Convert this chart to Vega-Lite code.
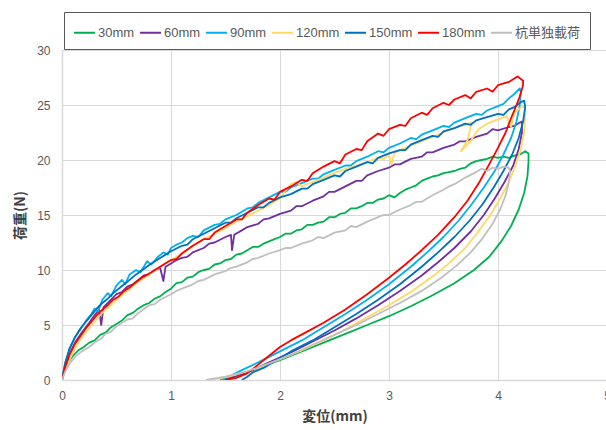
{
  "$schema": "https://vega.github.io/schema/vega-lite/v6.json",
  "width": 545,
  "height": 330,
  "autosize": {"type": "none"},
  "padding": {"left": 62, "top": 50, "right": 0, "bottom": 50},
  "background": "white",
  "config": {
    "view": {"stroke": null},
    "font": "Noto Sans CJK JP",
    "axis": {
      "gridColor": "#d9d9d9",
      "gridWidth": 1,
      "domainColor": "#d9d9d9",
      "domainWidth": 1.5,
      "ticks": false,
      "labelFlush": false,
      "labelFont": "Liberation Sans, Noto Sans CJK JP",
      "labelFontSize": 12,
      "labelColor": "#595959",
      "titleFont": "Noto Sans CJK JP",
      "titleFontSize": 14,
      "titleFontWeight": "bold",
      "titleColor": "#404040"
    },
    "legend": {
      "labelFont": "Liberation Sans, Noto Sans CJK JP",
      "labelFontSize": 13,
      "labelColor": "#595959"
    }
  },
  "data": {
    "values": [
      {"s":"30mm","x":0,"y":0},{"s":"30mm","x":0.02,"y":0.8},{"s":"30mm","x":0.05,"y":1.5},{"s":"30mm","x":0.1,"y":2.2},{"s":"30mm","x":0.15,"y":2.7},{"s":"30mm","x":0.2,"y":3.0},{"s":"30mm","x":0.25,"y":3.4},{"s":"30mm","x":0.3,"y":3.6},{"s":"30mm","x":0.35,"y":4.1},{"s":"30mm","x":0.4,"y":4.3},{"s":"30mm","x":0.45,"y":4.8},{"s":"30mm","x":0.5,"y":5.1},{"s":"30mm","x":0.55,"y":5.4},{"s":"30mm","x":0.6,"y":5.9},{"s":"30mm","x":0.65,"y":6.1},{"s":"30mm","x":0.7,"y":6.5},{"s":"30mm","x":0.75,"y":6.8},{"s":"30mm","x":0.8,"y":7.0},{"s":"30mm","x":0.85,"y":7.4},{"s":"30mm","x":0.9,"y":7.6},{"s":"30mm","x":0.95,"y":8.0},{"s":"30mm","x":1.0,"y":8.3},{"s":"30mm","x":1.05,"y":8.8},{"s":"30mm","x":1.1,"y":8.9},{"s":"30mm","x":1.15,"y":9.3},{"s":"30mm","x":1.2,"y":9.4},{"s":"30mm","x":1.25,"y":9.8},{"s":"30mm","x":1.3,"y":10.0},{"s":"30mm","x":1.35,"y":10.1},{"s":"30mm","x":1.4,"y":10.5},{"s":"30mm","x":1.45,"y":10.6},{"s":"30mm","x":1.5,"y":10.9},{"s":"30mm","x":1.55,"y":11.0},{"s":"30mm","x":1.6,"y":11.4},{"s":"30mm","x":1.65,"y":11.5},{"s":"30mm","x":1.7,"y":11.8},{"s":"30mm","x":1.75,"y":12.1},{"s":"30mm","x":1.8,"y":12.1},{"s":"30mm","x":1.85,"y":12.4},{"s":"30mm","x":1.9,"y":12.6},{"s":"30mm","x":1.95,"y":12.8},{"s":"30mm","x":2.0,"y":13.0},{"s":"30mm","x":2.05,"y":13.3},{"s":"30mm","x":2.1,"y":13.3},{"s":"30mm","x":2.15,"y":13.6},{"s":"30mm","x":2.2,"y":13.7},{"s":"30mm","x":2.25,"y":14.1},{"s":"30mm","x":2.3,"y":14.1},{"s":"30mm","x":2.35,"y":14.3},{"s":"30mm","x":2.4,"y":14.4},{"s":"30mm","x":2.45,"y":14.8},{"s":"30mm","x":2.5,"y":14.8},{"s":"30mm","x":2.55,"y":15.1},{"s":"30mm","x":2.6,"y":15.2},{"s":"30mm","x":2.65,"y":15.6},{"s":"30mm","x":2.7,"y":15.6},{"s":"30mm","x":2.75,"y":15.8},{"s":"30mm","x":2.8,"y":16.1},{"s":"30mm","x":2.85,"y":16.1},{"s":"30mm","x":2.9,"y":16.4},{"s":"30mm","x":2.95,"y":16.5},{"s":"30mm","x":3.0,"y":16.8},{"s":"30mm","x":3.05,"y":16.6},{"s":"30mm","x":3.1,"y":17.0},{"s":"30mm","x":3.15,"y":17.3},{"s":"30mm","x":3.2,"y":17.5},{"s":"30mm","x":3.25,"y":17.7},{"s":"30mm","x":3.3,"y":18.1},{"s":"30mm","x":3.35,"y":18.3},{"s":"30mm","x":3.4,"y":18.5},{"s":"30mm","x":3.45,"y":18.6},{"s":"30mm","x":3.5,"y":18.8},{"s":"30mm","x":3.55,"y":18.9},{"s":"30mm","x":3.6,"y":19.0},{"s":"30mm","x":3.65,"y":19.2},{"s":"30mm","x":3.7,"y":19.3},{"s":"30mm","x":3.75,"y":19.7},{"s":"30mm","x":3.8,"y":19.9},{"s":"30mm","x":3.85,"y":20.0},{"s":"30mm","x":3.9,"y":20.1},{"s":"30mm","x":3.95,"y":20.3},{"s":"30mm","x":4.0,"y":20.2},{"s":"30mm","x":4.05,"y":20.3},{"s":"30mm","x":4.1,"y":20.2},{"s":"30mm","x":4.15,"y":20.4},{"s":"30mm","x":4.2,"y":20.5},{"s":"30mm","x":4.25,"y":20.8},{"s":"30mm","x":4.28,"y":20.6},
      {"s":"30mm","x":4.28,"y":19.8},{"s":"30mm","x":4.27,"y":18.5},{"s":"30mm","x":4.24,"y":17.0},{"s":"30mm","x":4.19,"y":15.5},{"s":"30mm","x":4.12,"y":14.0},{"s":"30mm","x":4.03,"y":12.6},{"s":"30mm","x":3.92,"y":11.2},{"s":"30mm","x":3.78,"y":10.0},{"s":"30mm","x":3.6,"y":8.8},{"s":"30mm","x":3.4,"y":7.7},{"s":"30mm","x":3.2,"y":6.7},{"s":"30mm","x":3.0,"y":5.8},{"s":"30mm","x":2.8,"y":5.0},{"s":"30mm","x":2.6,"y":4.2},{"s":"30mm","x":2.4,"y":3.4},{"s":"30mm","x":2.2,"y":2.6},{"s":"30mm","x":2.0,"y":1.8},{"s":"30mm","x":1.8,"y":1.1},{"s":"30mm","x":1.65,"y":0.5},{"s":"30mm","x":1.55,"y":0.2},{"s":"30mm","x":1.45,"y":0},

      {"s":"60mm","x":0,"y":0},{"s":"60mm","x":0.03,"y":1.3},{"s":"60mm","x":0.07,"y":2.4},{"s":"60mm","x":0.12,"y":3.4},{"s":"60mm","x":0.18,"y":4.3},{"s":"60mm","x":0.25,"y":5.2},{"s":"60mm","x":0.3,"y":5.9},{"s":"60mm","x":0.34,"y":6.4},{"s":"60mm","x":0.36,"y":5.0},{"s":"60mm","x":0.38,"y":6.6},{"s":"60mm","x":0.45,"y":7.3},{"s":"60mm","x":0.5,"y":7.8},{"s":"60mm","x":0.55,"y":8.0},{"s":"60mm","x":0.6,"y":8.5},{"s":"60mm","x":0.65,"y":8.7},{"s":"60mm","x":0.7,"y":9.1},{"s":"60mm","x":0.75,"y":9.5},{"s":"60mm","x":0.8,"y":9.6},{"s":"60mm","x":0.85,"y":10.0},{"s":"60mm","x":0.9,"y":10.2},{"s":"60mm","x":0.93,"y":9.0},{"s":"60mm","x":0.95,"y":10.3},{"s":"60mm","x":1.0,"y":10.6},{"s":"60mm","x":1.05,"y":10.9},{"s":"60mm","x":1.1,"y":11.1},{"s":"60mm","x":1.15,"y":11.2},{"s":"60mm","x":1.2,"y":11.6},{"s":"60mm","x":1.3,"y":12.0},{"s":"60mm","x":1.35,"y":12.4},{"s":"60mm","x":1.4,"y":12.5},{"s":"60mm","x":1.5,"y":13.0},{"s":"60mm","x":1.55,"y":13.2},{"s":"60mm","x":1.56,"y":11.8},{"s":"60mm","x":1.58,"y":13.2},{"s":"60mm","x":1.65,"y":13.6},{"s":"60mm","x":1.7,"y":13.9},{"s":"60mm","x":1.8,"y":14.2},{"s":"60mm","x":1.85,"y":14.6},{"s":"60mm","x":1.9,"y":14.7},{"s":"60mm","x":2.0,"y":15.1},{"s":"60mm","x":2.1,"y":15.4},{"s":"60mm","x":2.15,"y":15.8},{"s":"60mm","x":2.2,"y":15.8},{"s":"60mm","x":2.3,"y":16.3},{"s":"60mm","x":2.4,"y":16.7},{"s":"60mm","x":2.45,"y":17.1},{"s":"60mm","x":2.5,"y":17.1},{"s":"60mm","x":2.6,"y":17.6},{"s":"60mm","x":2.7,"y":18.1},{"s":"60mm","x":2.75,"y":18.1},{"s":"60mm","x":2.8,"y":18.6},{"s":"60mm","x":2.9,"y":19.0},{"s":"60mm","x":3.0,"y":19.3},{"s":"60mm","x":3.05,"y":19.6},{"s":"60mm","x":3.1,"y":19.6},{"s":"60mm","x":3.2,"y":20.1},{"s":"60mm","x":3.3,"y":20.3},{"s":"60mm","x":3.35,"y":20.7},{"s":"60mm","x":3.4,"y":20.7},{"s":"60mm","x":3.5,"y":21.1},{"s":"60mm","x":3.6,"y":21.4},{"s":"60mm","x":3.65,"y":21.7},{"s":"60mm","x":3.7,"y":21.7},{"s":"60mm","x":3.8,"y":22.1},{"s":"60mm","x":3.9,"y":22.4},{"s":"60mm","x":3.95,"y":22.8},{"s":"60mm","x":4.0,"y":22.7},{"s":"60mm","x":4.1,"y":23.0},{"s":"60mm","x":4.15,"y":23.1},{"s":"60mm","x":4.2,"y":23.4},
      {"s":"60mm","x":4.22,"y":23.5},{"s":"60mm","x":4.22,"y":22.5},{"s":"60mm","x":4.19,"y":21.0},{"s":"60mm","x":4.14,"y":19.5},{"s":"60mm","x":4.06,"y":18.0},{"s":"60mm","x":3.97,"y":16.5},{"s":"60mm","x":3.87,"y":15.0},{"s":"60mm","x":3.75,"y":13.5},{"s":"60mm","x":3.6,"y":12.0},{"s":"60mm","x":3.45,"y":10.7},{"s":"60mm","x":3.3,"y":9.5},{"s":"60mm","x":3.1,"y":8.1},{"s":"60mm","x":2.9,"y":6.8},{"s":"60mm","x":2.7,"y":5.6},{"s":"60mm","x":2.5,"y":4.5},{"s":"60mm","x":2.3,"y":3.5},{"s":"60mm","x":2.1,"y":2.5},{"s":"60mm","x":1.9,"y":1.6},{"s":"60mm","x":1.75,"y":0.9},{"s":"60mm","x":1.6,"y":0.4},{"s":"60mm","x":1.5,"y":0},

      {"s":"90mm","x":0,"y":0},{"s":"90mm","x":0.03,"y":1.5},{"s":"90mm","x":0.07,"y":2.8},{"s":"90mm","x":0.12,"y":3.9},{"s":"90mm","x":0.17,"y":4.6},{"s":"90mm","x":0.22,"y":5.4},{"s":"90mm","x":0.27,"y":6.0},{"s":"90mm","x":0.3,"y":6.5},{"s":"90mm","x":0.33,"y":6.2},{"s":"90mm","x":0.37,"y":7.3},{"s":"90mm","x":0.42,"y":7.9},{"s":"90mm","x":0.45,"y":7.6},{"s":"90mm","x":0.5,"y":8.6},{"s":"90mm","x":0.55,"y":9.1},{"s":"90mm","x":0.58,"y":8.7},{"s":"90mm","x":0.62,"y":9.6},{"s":"90mm","x":0.68,"y":10.0},{"s":"90mm","x":0.72,"y":9.8},{"s":"90mm","x":0.78,"y":10.8},{"s":"90mm","x":0.82,"y":10.5},{"s":"90mm","x":0.88,"y":11.2},{"s":"90mm","x":0.93,"y":11.6},{"s":"90mm","x":0.97,"y":11.4},{"s":"90mm","x":1.0,"y":12.0},{"s":"90mm","x":1.05,"y":12.3},{"s":"90mm","x":1.1,"y":12.5},{"s":"90mm","x":1.15,"y":12.9},{"s":"90mm","x":1.2,"y":13.1},{"s":"90mm","x":1.25,"y":13.0},{"s":"90mm","x":1.3,"y":13.6},{"s":"90mm","x":1.4,"y":14.1},{"s":"90mm","x":1.45,"y":14.2},{"s":"90mm","x":1.5,"y":14.6},{"s":"90mm","x":1.6,"y":15.0},{"s":"90mm","x":1.7,"y":15.6},{"s":"90mm","x":1.75,"y":15.7},{"s":"90mm","x":1.8,"y":16.1},{"s":"90mm","x":1.9,"y":16.6},{"s":"90mm","x":2.0,"y":17.1},{"s":"90mm","x":2.05,"y":17.1},{"s":"90mm","x":2.1,"y":17.5},{"s":"90mm","x":2.2,"y":17.9},{"s":"90mm","x":2.3,"y":18.3},{"s":"90mm","x":2.35,"y":18.3},{"s":"90mm","x":2.4,"y":18.7},{"s":"90mm","x":2.5,"y":19.1},{"s":"90mm","x":2.6,"y":19.5},{"s":"90mm","x":2.65,"y":19.5},{"s":"90mm","x":2.7,"y":19.9},{"s":"90mm","x":2.8,"y":20.3},{"s":"90mm","x":2.9,"y":20.8},{"s":"90mm","x":2.95,"y":20.7},{"s":"90mm","x":3.0,"y":21.1},{"s":"90mm","x":3.1,"y":21.5},{"s":"90mm","x":3.2,"y":22.0},{"s":"90mm","x":3.25,"y":21.9},{"s":"90mm","x":3.3,"y":22.3},{"s":"90mm","x":3.4,"y":22.7},{"s":"90mm","x":3.5,"y":23.1},{"s":"90mm","x":3.55,"y":23.0},{"s":"90mm","x":3.6,"y":23.4},{"s":"90mm","x":3.7,"y":23.8},{"s":"90mm","x":3.8,"y":24.2},{"s":"90mm","x":3.85,"y":24.1},{"s":"90mm","x":3.9,"y":24.5},{"s":"90mm","x":4.0,"y":24.9},{"s":"90mm","x":4.05,"y":25.1},{"s":"90mm","x":4.1,"y":25.6},{"s":"90mm","x":4.15,"y":26.0},{"s":"90mm","x":4.2,"y":26.5},
      {"s":"90mm","x":4.21,"y":26.2},{"s":"90mm","x":4.2,"y":25.0},{"s":"90mm","x":4.17,"y":23.5},{"s":"90mm","x":4.12,"y":22.0},{"s":"90mm","x":4.05,"y":20.5},{"s":"90mm","x":3.97,"y":19.0},{"s":"90mm","x":3.87,"y":17.5},{"s":"90mm","x":3.76,"y":16.0},{"s":"90mm","x":3.64,"y":14.5},{"s":"90mm","x":3.5,"y":13.0},{"s":"90mm","x":3.35,"y":11.6},{"s":"90mm","x":3.2,"y":10.3},{"s":"90mm","x":3.0,"y":8.7},{"s":"90mm","x":2.8,"y":7.3},{"s":"90mm","x":2.6,"y":6.0},{"s":"90mm","x":2.4,"y":4.8},{"s":"90mm","x":2.2,"y":3.6},{"s":"90mm","x":2.0,"y":2.6},{"s":"90mm","x":1.8,"y":1.6},{"s":"90mm","x":1.65,"y":0.9},{"s":"90mm","x":1.55,"y":0.4},{"s":"90mm","x":1.45,"y":0},

      {"s":"120mm","x":0,"y":0},{"s":"120mm","x":0.02,"y":0.6},{"s":"120mm","x":0.05,"y":1.4},{"s":"120mm","x":0.1,"y":2.5},{"s":"120mm","x":0.15,"y":3.4},{"s":"120mm","x":0.2,"y":4.1},{"s":"120mm","x":0.25,"y":4.7},{"s":"120mm","x":0.3,"y":5.3},{"s":"120mm","x":0.35,"y":5.9},{"s":"120mm","x":0.4,"y":6.4},{"s":"120mm","x":0.45,"y":6.8},{"s":"120mm","x":0.5,"y":7.3},{"s":"120mm","x":0.6,"y":8.1},{"s":"120mm","x":0.7,"y":8.9},{"s":"120mm","x":0.8,"y":9.6},{"s":"120mm","x":0.9,"y":10.3},{"s":"120mm","x":1.0,"y":10.9},{"s":"120mm","x":1.1,"y":11.5},{"s":"120mm","x":1.2,"y":12.2},{"s":"120mm","x":1.3,"y":12.8},{"s":"120mm","x":1.4,"y":13.3},{"s":"120mm","x":1.5,"y":13.8},{"s":"120mm","x":1.6,"y":14.4},{"s":"120mm","x":1.7,"y":14.9},{"s":"120mm","x":1.8,"y":15.4},{"s":"120mm","x":1.9,"y":15.9},{"s":"120mm","x":2.0,"y":16.5},{"s":"120mm","x":2.05,"y":17.2},{"s":"120mm","x":2.1,"y":17.8},{"s":"120mm","x":2.15,"y":18.0},{"s":"120mm","x":2.2,"y":17.6},{"s":"120mm","x":2.3,"y":18.0},{"s":"120mm","x":2.4,"y":18.4},{"s":"120mm","x":2.5,"y":18.8},{"s":"120mm","x":2.6,"y":19.2},{"s":"120mm","x":2.7,"y":19.5},{"s":"120mm","x":2.8,"y":19.8},{"s":"120mm","x":2.9,"y":20.2},{"s":"120mm","x":2.95,"y":20.1},{"s":"120mm","x":3.0,"y":20.5},{"s":"120mm","x":3.02,"y":19.6},{"s":"120mm","x":3.05,"y":20.6},{"s":"120mm","x":3.1,"y":20.9},{"s":"120mm","x":3.2,"y":21.3},{"s":"120mm","x":3.3,"y":21.7},{"s":"120mm","x":3.4,"y":22.1},{"s":"120mm","x":3.5,"y":22.5},{"s":"120mm","x":3.6,"y":22.9},{"s":"120mm","x":3.7,"y":23.2},{"s":"120mm","x":3.76,"y":23.4},{"s":"120mm","x":3.72,"y":21.8},{"s":"120mm","x":3.66,"y":20.8},{"s":"120mm","x":3.74,"y":21.6},{"s":"120mm","x":3.82,"y":22.8},{"s":"120mm","x":3.9,"y":23.3},{"s":"120mm","x":4.0,"y":23.7},{"s":"120mm","x":4.08,"y":24.0},{"s":"120mm","x":4.12,"y":23.0},{"s":"120mm","x":4.15,"y":24.3},{"s":"120mm","x":4.2,"y":24.7},{"s":"120mm","x":4.24,"y":24.9},
      {"s":"120mm","x":4.25,"y":24.0},{"s":"120mm","x":4.24,"y":22.5},{"s":"120mm","x":4.21,"y":21.0},{"s":"120mm","x":4.16,"y":19.5},{"s":"120mm","x":4.1,"y":18.0},{"s":"120mm","x":4.02,"y":16.5},{"s":"120mm","x":3.93,"y":15.0},{"s":"120mm","x":3.82,"y":13.5},{"s":"120mm","x":3.7,"y":12.0},{"s":"120mm","x":3.55,"y":10.6},{"s":"120mm","x":3.4,"y":9.4},{"s":"120mm","x":3.2,"y":8.0},{"s":"120mm","x":3.0,"y":6.8},{"s":"120mm","x":2.8,"y":5.7},{"s":"120mm","x":2.6,"y":4.6},{"s":"120mm","x":2.4,"y":3.6},{"s":"120mm","x":2.2,"y":2.7},{"s":"120mm","x":2.0,"y":1.9},{"s":"120mm","x":1.8,"y":1.1},{"s":"120mm","x":1.6,"y":0.5},{"s":"120mm","x":1.47,"y":0.2},{"s":"120mm","x":1.35,"y":0},

      {"s":"150mm","x":0,"y":0},{"s":"150mm","x":0.03,"y":1.6},{"s":"150mm","x":0.07,"y":2.9},{"s":"150mm","x":0.12,"y":3.9},{"s":"150mm","x":0.17,"y":4.7},{"s":"150mm","x":0.22,"y":5.3},{"s":"150mm","x":0.27,"y":5.9},{"s":"150mm","x":0.32,"y":6.5},{"s":"150mm","x":0.37,"y":7.0},{"s":"150mm","x":0.42,"y":7.4},{"s":"150mm","x":0.47,"y":7.9},{"s":"150mm","x":0.52,"y":8.3},{"s":"150mm","x":0.57,"y":8.7},{"s":"150mm","x":0.62,"y":9.1},{"s":"150mm","x":0.68,"y":9.6},{"s":"150mm","x":0.75,"y":10.1},{"s":"150mm","x":0.82,"y":10.6},{"s":"150mm","x":0.9,"y":11.1},{"s":"150mm","x":1.0,"y":11.7},{"s":"150mm","x":1.1,"y":12.2},{"s":"150mm","x":1.15,"y":12.3},{"s":"150mm","x":1.2,"y":12.8},{"s":"150mm","x":1.3,"y":13.3},{"s":"150mm","x":1.4,"y":13.8},{"s":"150mm","x":1.5,"y":14.3},{"s":"150mm","x":1.55,"y":14.3},{"s":"150mm","x":1.6,"y":14.7},{"s":"150mm","x":1.7,"y":15.2},{"s":"150mm","x":1.8,"y":15.7},{"s":"150mm","x":1.85,"y":15.7},{"s":"150mm","x":1.9,"y":16.1},{"s":"150mm","x":2.0,"y":16.6},{"s":"150mm","x":2.1,"y":16.9},{"s":"150mm","x":2.2,"y":17.4},{"s":"150mm","x":2.25,"y":17.4},{"s":"150mm","x":2.3,"y":17.8},{"s":"150mm","x":2.4,"y":18.2},{"s":"150mm","x":2.5,"y":18.6},{"s":"150mm","x":2.55,"y":18.5},{"s":"150mm","x":2.6,"y":19.0},{"s":"150mm","x":2.7,"y":19.4},{"s":"150mm","x":2.8,"y":19.8},{"s":"150mm","x":2.85,"y":19.7},{"s":"150mm","x":2.9,"y":20.2},{"s":"150mm","x":3.0,"y":20.6},{"s":"150mm","x":3.1,"y":20.9},{"s":"150mm","x":3.15,"y":20.9},{"s":"150mm","x":3.2,"y":21.4},{"s":"150mm","x":3.3,"y":21.8},{"s":"150mm","x":3.4,"y":22.2},{"s":"150mm","x":3.45,"y":22.1},{"s":"150mm","x":3.5,"y":22.6},{"s":"150mm","x":3.6,"y":22.9},{"s":"150mm","x":3.7,"y":23.3},{"s":"150mm","x":3.75,"y":23.2},{"s":"150mm","x":3.8,"y":23.6},{"s":"150mm","x":3.9,"y":23.9},{"s":"150mm","x":4.0,"y":24.2},{"s":"150mm","x":4.05,"y":24.1},{"s":"150mm","x":4.1,"y":24.6},{"s":"150mm","x":4.15,"y":24.8},{"s":"150mm","x":4.2,"y":25.2},{"s":"150mm","x":4.24,"y":25.4},
      {"s":"150mm","x":4.25,"y":24.8},{"s":"150mm","x":4.23,"y":23.5},{"s":"150mm","x":4.19,"y":22.0},{"s":"150mm","x":4.13,"y":20.5},{"s":"150mm","x":4.05,"y":19.0},{"s":"150mm","x":3.96,"y":17.5},{"s":"150mm","x":3.86,"y":16.0},{"s":"150mm","x":3.74,"y":14.5},{"s":"150mm","x":3.6,"y":13.0},{"s":"150mm","x":3.45,"y":11.6},{"s":"150mm","x":3.3,"y":10.3},{"s":"150mm","x":3.1,"y":8.7},{"s":"150mm","x":2.9,"y":7.3},{"s":"150mm","x":2.7,"y":6.0},{"s":"150mm","x":2.5,"y":4.8},{"s":"150mm","x":2.3,"y":3.6},{"s":"150mm","x":2.1,"y":2.6},{"s":"150mm","x":1.95,"y":1.7},{"s":"150mm","x":1.85,"y":1.1},{"s":"150mm","x":1.75,"y":0.7},{"s":"150mm","x":1.7,"y":0.3},{"s":"150mm","x":1.65,"y":0},

      {"s":"180mm","x":0,"y":0},{"s":"180mm","x":0.03,"y":1.2},{"s":"180mm","x":0.07,"y":2.3},{"s":"180mm","x":0.12,"y":3.3},{"s":"180mm","x":0.17,"y":4.0},{"s":"180mm","x":0.22,"y":4.7},{"s":"180mm","x":0.27,"y":5.3},{"s":"180mm","x":0.32,"y":5.9},{"s":"180mm","x":0.37,"y":6.4},{"s":"180mm","x":0.42,"y":6.8},{"s":"180mm","x":0.47,"y":7.3},{"s":"180mm","x":0.52,"y":7.6},{"s":"180mm","x":0.57,"y":8.1},{"s":"180mm","x":0.62,"y":8.4},{"s":"180mm","x":0.68,"y":8.9},{"s":"180mm","x":0.75,"y":9.4},{"s":"180mm","x":0.82,"y":9.8},{"s":"180mm","x":0.9,"y":10.3},{"s":"180mm","x":1.0,"y":10.9},{"s":"180mm","x":1.05,"y":11.0},{"s":"180mm","x":1.1,"y":11.5},{"s":"180mm","x":1.2,"y":12.2},{"s":"180mm","x":1.3,"y":12.8},{"s":"180mm","x":1.35,"y":12.8},{"s":"180mm","x":1.4,"y":13.4},{"s":"180mm","x":1.5,"y":14.0},{"s":"180mm","x":1.6,"y":14.6},{"s":"180mm","x":1.65,"y":14.6},{"s":"180mm","x":1.7,"y":15.2},{"s":"180mm","x":1.8,"y":15.9},{"s":"180mm","x":1.9,"y":16.5},{"s":"180mm","x":1.95,"y":16.4},{"s":"180mm","x":2.0,"y":17.1},{"s":"180mm","x":2.1,"y":17.6},{"s":"180mm","x":2.2,"y":18.2},{"s":"180mm","x":2.25,"y":18.1},{"s":"180mm","x":2.3,"y":18.8},{"s":"180mm","x":2.4,"y":19.4},{"s":"180mm","x":2.5,"y":19.9},{"s":"180mm","x":2.55,"y":19.7},{"s":"180mm","x":2.6,"y":20.5},{"s":"180mm","x":2.7,"y":21.0},{"s":"180mm","x":2.75,"y":20.9},{"s":"180mm","x":2.8,"y":21.7},{"s":"180mm","x":2.9,"y":22.4},{"s":"180mm","x":2.95,"y":22.2},{"s":"180mm","x":3.0,"y":22.8},{"s":"180mm","x":3.1,"y":23.2},{"s":"180mm","x":3.15,"y":23.1},{"s":"180mm","x":3.2,"y":23.8},{"s":"180mm","x":3.3,"y":24.3},{"s":"180mm","x":3.35,"y":24.1},{"s":"180mm","x":3.4,"y":24.7},{"s":"180mm","x":3.5,"y":25.2},{"s":"180mm","x":3.55,"y":25.0},{"s":"180mm","x":3.6,"y":25.5},{"s":"180mm","x":3.7,"y":25.9},{"s":"180mm","x":3.75,"y":25.6},{"s":"180mm","x":3.8,"y":26.2},{"s":"180mm","x":3.9,"y":26.5},{"s":"180mm","x":3.95,"y":26.2},{"s":"180mm","x":4.0,"y":26.8},{"s":"180mm","x":4.1,"y":27.1},{"s":"180mm","x":4.15,"y":27.4},{"s":"180mm","x":4.18,"y":27.6},
      {"s":"180mm","x":4.23,"y":27.2},{"s":"180mm","x":4.23,"y":26.8},{"s":"180mm","x":4.2,"y":25.8},{"s":"180mm","x":4.17,"y":25.0},{"s":"180mm","x":4.12,"y":23.8},{"s":"180mm","x":4.07,"y":22.5},{"s":"180mm","x":4.0,"y":21.1},{"s":"180mm","x":3.93,"y":19.8},{"s":"180mm","x":3.83,"y":18.0},{"s":"180mm","x":3.72,"y":16.3},{"s":"180mm","x":3.6,"y":14.8},{"s":"180mm","x":3.45,"y":13.2},{"s":"180mm","x":3.3,"y":11.8},{"s":"180mm","x":3.15,"y":10.5},{"s":"180mm","x":3.0,"y":9.3},{"s":"180mm","x":2.8,"y":7.8},{"s":"180mm","x":2.6,"y":6.4},{"s":"180mm","x":2.4,"y":5.2},{"s":"180mm","x":2.25,"y":4.4},{"s":"180mm","x":2.1,"y":3.6},{"s":"180mm","x":2.0,"y":3.0},{"s":"180mm","x":1.9,"y":2.2},{"s":"180mm","x":1.8,"y":1.4},{"s":"180mm","x":1.7,"y":0.6},{"s":"180mm","x":1.6,"y":0.2},{"s":"180mm","x":1.5,"y":0},

      {"s":"杭単独載荷","x":0,"y":0},{"s":"杭単独載荷","x":0.03,"y":0.8},{"s":"杭単独載荷","x":0.07,"y":1.5},{"s":"杭単独載荷","x":0.12,"y":2.1},{"s":"杭単独載荷","x":0.18,"y":2.6},{"s":"杭単独載荷","x":0.25,"y":3.0},{"s":"杭単独載荷","x":0.3,"y":3.4},{"s":"杭単独載荷","x":0.35,"y":3.7},{"s":"杭単独載荷","x":0.4,"y":4.2},{"s":"杭単独載荷","x":0.45,"y":4.4},{"s":"杭単独載荷","x":0.5,"y":4.9},{"s":"杭単独載荷","x":0.6,"y":5.5},{"s":"杭単独載荷","x":0.65,"y":5.6},{"s":"杭単独載荷","x":0.7,"y":6.1},{"s":"杭単独載荷","x":0.8,"y":6.8},{"s":"杭単独載荷","x":0.85,"y":6.9},{"s":"杭単独載荷","x":0.9,"y":7.3},{"s":"杭単独載荷","x":1.0,"y":7.8},{"s":"杭単独載荷","x":1.05,"y":8.1},{"s":"杭単独載荷","x":1.1,"y":8.3},{"s":"杭単独載荷","x":1.2,"y":8.7},{"s":"杭単独載荷","x":1.25,"y":9.0},{"s":"杭単独載荷","x":1.3,"y":9.1},{"s":"杭単独載荷","x":1.4,"y":9.6},{"s":"杭単独載荷","x":1.5,"y":9.9},{"s":"杭単独載荷","x":1.55,"y":10.2},{"s":"杭単独載荷","x":1.6,"y":10.3},{"s":"杭単独載荷","x":1.7,"y":10.7},{"s":"杭単独載荷","x":1.75,"y":11.0},{"s":"杭単独載荷","x":1.8,"y":11.1},{"s":"杭単独載荷","x":1.9,"y":11.5},{"s":"杭単独載荷","x":2.0,"y":11.8},{"s":"杭単独載荷","x":2.05,"y":12.0},{"s":"杭単独載荷","x":2.1,"y":12.0},{"s":"杭単独載荷","x":2.2,"y":12.4},{"s":"杭単独載荷","x":2.3,"y":12.7},{"s":"杭単独載荷","x":2.35,"y":13.0},{"s":"杭単独載荷","x":2.4,"y":12.9},{"s":"杭単独載荷","x":2.5,"y":13.4},{"s":"杭単独載荷","x":2.6,"y":13.6},{"s":"杭単独載荷","x":2.65,"y":14.0},{"s":"杭単独載荷","x":2.7,"y":13.9},{"s":"杭単独載荷","x":2.8,"y":14.4},{"s":"杭単独載荷","x":2.9,"y":14.8},{"s":"杭単独載荷","x":2.95,"y":15.0},{"s":"杭単独載荷","x":3.0,"y":15.0},{"s":"杭単独載荷","x":3.1,"y":15.5},{"s":"杭単独載荷","x":3.2,"y":15.9},{"s":"杭単独載荷","x":3.25,"y":16.2},{"s":"杭単独載荷","x":3.3,"y":16.2},{"s":"杭単独載荷","x":3.4,"y":16.8},{"s":"杭単独載荷","x":3.5,"y":17.3},{"s":"杭単独載荷","x":3.55,"y":17.6},{"s":"杭単独載荷","x":3.6,"y":17.8},{"s":"杭単独載荷","x":3.7,"y":18.4},{"s":"杭単独載荷","x":3.8,"y":18.9},{"s":"杭単独載荷","x":3.85,"y":19.2},{"s":"杭単独載荷","x":3.9,"y":19.0},{"s":"杭単独載荷","x":3.95,"y":19.3},{"s":"杭単独載荷","x":4.0,"y":19.2},{"s":"杭単独載荷","x":4.05,"y":19.4},{"s":"杭単独載荷","x":4.1,"y":19.3},
      {"s":"杭単独載荷","x":4.11,"y":19.0},{"s":"杭単独載荷","x":4.1,"y":18.0},{"s":"杭単独載荷","x":4.07,"y":16.8},{"s":"杭単独載荷","x":4.02,"y":15.5},{"s":"杭単独載荷","x":3.95,"y":14.2},{"s":"杭単独載荷","x":3.86,"y":12.9},{"s":"杭単独載荷","x":3.75,"y":11.6},{"s":"杭単独載荷","x":3.62,"y":10.4},{"s":"杭単独載荷","x":3.48,"y":9.3},{"s":"杭単独載荷","x":3.3,"y":8.1},{"s":"杭単独載荷","x":3.1,"y":7.0},{"s":"杭単独載荷","x":2.9,"y":6.0},{"s":"杭単独載荷","x":2.7,"y":5.0},{"s":"杭単独載荷","x":2.5,"y":4.1},{"s":"杭単独載荷","x":2.3,"y":3.2},{"s":"杭単独載荷","x":2.1,"y":2.3},{"s":"杭単独載荷","x":1.9,"y":1.5},{"s":"杭単独載荷","x":1.7,"y":0.8},{"s":"杭単独載荷","x":1.5,"y":0.3},{"s":"杭単独載荷","x":1.32,"y":0}
    ]
  },
  "mark": {"type": "line", "strokeWidth": 1.8, "strokeJoin": "round", "clip": true},
  "encoding": {
    "x": {
      "field": "x",
      "type": "quantitative",
      "scale": {"domain": [0, 5], "nice": false},
      "axis": {"values": [0, 1, 2, 3, 4, 5], "title": "変位(mm)", "labelPadding": 10, "titlePadding": 8, "grid": true}
    },
    "y": {
      "field": "y",
      "type": "quantitative",
      "scale": {"domain": [0, 30], "nice": false},
      "axis": {"values": [0, 5, 10, 15, 20, 25, 30], "title": "荷重(N)", "labelPadding": 12, "titlePadding": 9, "grid": true}
    },
    "color": {
      "field": "s",
      "type": "nominal",
      "scale": {
        "domain": ["30mm", "60mm", "90mm", "120mm", "150mm", "180mm", "杭単独載荷"],
        "range": ["#00B050", "#7030A0", "#00B0F0", "#FFD966", "#0070C0", "#FF0000", "#BFBFBF"]
      },
      "legend": {
        "title": null,
        "orient": "none",
        "direction": "horizontal",
        "legendX": 2,
        "legendY": -38,
        "symbolType": "stroke",
        "symbolSize": 441,
        "symbolStrokeWidth": 2,
        "labelOffset": 2,
        "columnPadding": 1,
        "padding": 9,
        "strokeColor": "#595959"
      }
    },
    "order": {"value": null}
  }
}
